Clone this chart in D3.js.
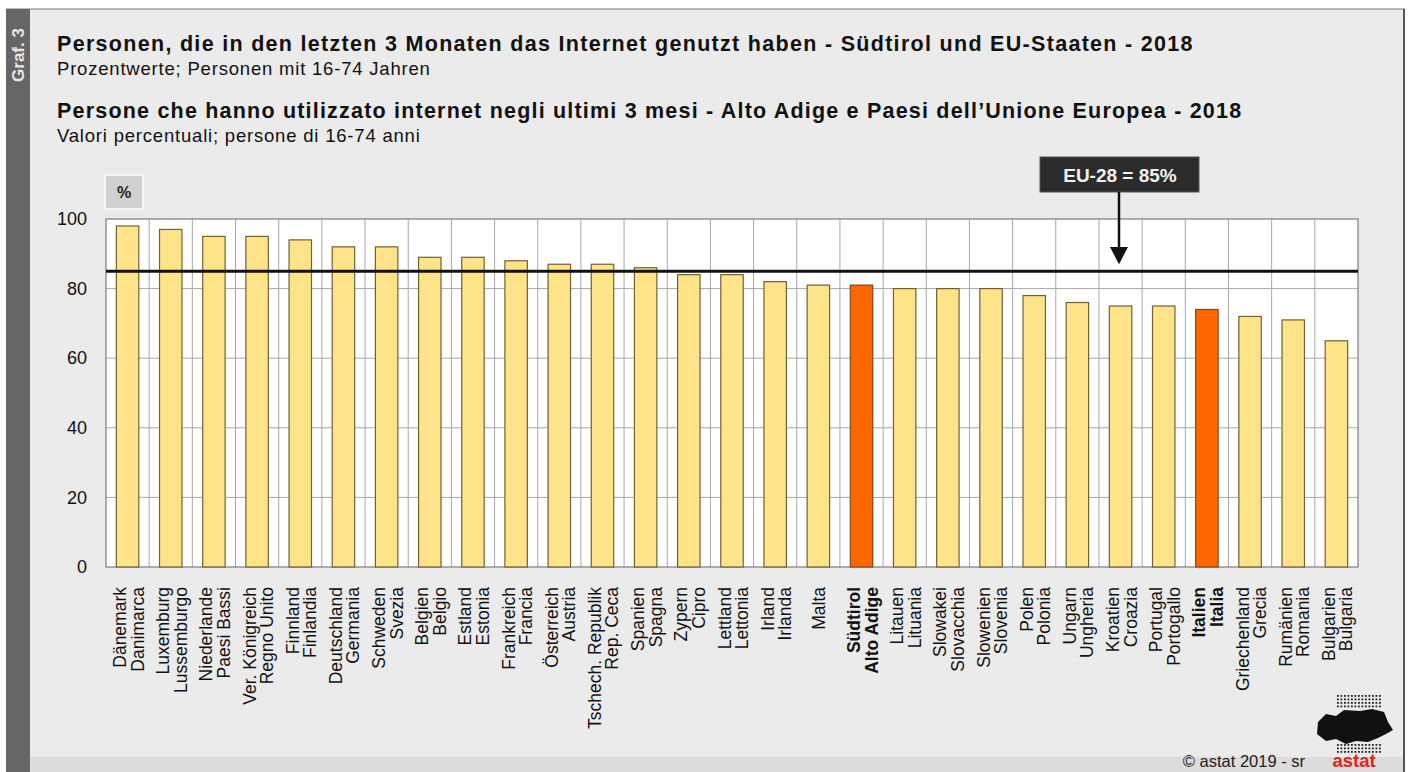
<!DOCTYPE html>
<html><head><meta charset="utf-8">
<script src="https://cdn.jsdelivr.net/npm/d3@7"></script>
<style>
html,body{margin:0;padding:0;background:#fff;}
svg{display:block;font-family:"Liberation Sans",Arial,sans-serif;}
</style></head>
<body><svg id="c" width="1410" height="772"></svg>
<script>
const labelsDe = ["Dänemark","Luxemburg","Niederlande","Ver. Königreich","Finnland","Deutschland","Schweden","Belgien","Estland","Frankreich","Österreich","Tschech. Republik","Spanien","Zypern","Lettland","Irland","Malta","Südtirol","Litauen","Slowakei","Slowenien","Polen","Ungarn","Kroatien","Portugal","Italien","Griechenland","Rumänien","Bulgarien"];
const labelsIt = ["Danimarca","Lussemburgo","Paesi Bassi","Regno Unito","Finlandia","Germania","Svezia","Belgio","Estonia","Francia","Austria","Rep. Ceca","Spagna","Cipro","Lettonia","Irlanda","","Alto Adige","Lituania","Slovacchia","Slovenia","Polonia","Ungheria","Croazia","Portogallo","Italia","Grecia","Romania","Bulgaria"];
const values = [98,97,95,95,94,92,92,89,89,88,87,87,86,84,84,82,81,81,80,80,80,78,76,75,75,74,72,71,65];
const highlighted = ["Südtirol","Italien"];
const yTicks = [0,20,40,60,80,100];
const euAverage = 85;

(function(){
const svg = d3.select("#c");
// background
svg.append("rect").attr("x",0).attr("y",0).attr("width",1410).attr("height",772).attr("fill","#ffffff");
svg.append("rect").attr("x",6).attr("y",9).attr("width",1398).attr("height",763).attr("fill","#ebebeb");
svg.append("rect").attr("x",30).attr("y",757).attr("width",1374).attr("height",15).attr("fill","#dcdcdc");
svg.append("line").attr("x1",1404).attr("x2",1404).attr("y1",9).attr("y2",772).attr("stroke","#555").attr("stroke-width",2);
svg.append("line").attr("x1",6).attr("x2",1405).attr("y1",9).attr("y2",9).attr("stroke","#777").attr("stroke-width",1);
svg.append("rect").attr("x",6).attr("y",9).attr("width",24).attr("height",763).attr("fill","#666666");
svg.append("text").attr("transform","translate(24,55) rotate(-90)").attr("text-anchor","middle")
  .attr("fill","#e6e6e6").attr("font-weight","bold").attr("font-size",17).text("Graf. 3");

// titles
const t = svg.append("g").attr("fill","#111");
t.append("text").attr("x",57).attr("y",51).attr("font-weight","bold").attr("font-size",21.5).attr("letter-spacing",1.3).text("Personen, die in den letzten 3 Monaten das Internet genutzt haben - Südtirol und EU-Staaten - 2018");
t.append("text").attr("x",57).attr("y",75).attr("font-size",18.5).attr("letter-spacing",0.8).text("Prozentwerte; Personen mit 16-74 Jahren");
t.append("text").attr("x",57).attr("y",118).attr("font-weight","bold").attr("font-size",21.5).attr("letter-spacing",1.2).text("Persone che hanno utilizzato internet negli ultimi 3 mesi - Alto Adige e Paesi dell’Unione Europea - 2018");
t.append("text").attr("x",57).attr("y",142).attr("font-size",18.5).attr("letter-spacing",0.8).text("Valori percentuali; persone di 16-74 anni");

// scales
const pL=106, pR=1358, pT=219, pB=567;
const x = d3.scaleBand().domain(labelsDe).range([pL,pR]).paddingInner(0.48).paddingOuter(0.24);
const xc = d3.scaleBand().domain(labelsDe).range([pL,pR]);
const y = d3.scaleLinear().domain([0,100]).range([pB,pT]);

svg.append("rect").attr("x",pL).attr("y",pT).attr("width",pR-pL).attr("height",pB-pT).attr("fill","#fff");
svg.append("g").selectAll("line").data(yTicks.filter(d=>d>0&&d<100)).join("line")
  .attr("x1",pL).attr("x2",pR).attr("y1",d=>y(d)).attr("y2",d=>y(d)).attr("stroke","#a8a8a8").attr("stroke-width",1);
svg.append("g").selectAll("line").data(labelsDe.slice(1)).join("line")
  .attr("x1",d=>xc(d)).attr("x2",d=>xc(d)).attr("y1",pT).attr("y2",pB).attr("stroke","#a8a8a8").attr("stroke-width",1);
svg.append("rect").attr("x",pL).attr("y",pT).attr("width",pR-pL).attr("height",pB-pT)
  .attr("fill","none").attr("stroke","#7a7a7a").attr("stroke-width",1.2);

// y axis
const ya = svg.append("g").attr("transform",`translate(${pL},0)`)
  .call(d3.axisLeft(y).tickValues(yTicks).tickSize(0).tickPadding(19));
ya.select(".domain").remove();
ya.selectAll("text").attr("font-size",18).attr("fill","#111").attr("font-family","Liberation Sans, Arial, sans-serif");

// % box
svg.append("rect").attr("x",105).attr("y",175).attr("width",38).attr("height",34).attr("fill","#d0d0d0").attr("stroke","#f6f6f6").attr("stroke-width",2);
svg.append("text").attr("x",124).attr("y",198).attr("text-anchor","middle").attr("font-weight","bold").attr("font-size",16).attr("fill","#222").text("%");

// bars
svg.append("g").selectAll("rect").data(labelsDe).join("rect")
  .attr("x",d=>x(d)).attr("width",x.bandwidth())
  .attr("y",(d,i)=>y(values[i])).attr("height",(d,i)=>y(0)-y(values[i]))
  .attr("fill",d=>highlighted.includes(d)?"#ff6600":"#ffe388")
  .attr("stroke",d=>highlighted.includes(d)?"#7a4a1e":"#6f6235").attr("stroke-width",1.2);

// EU line
svg.append("line").attr("x1",pL).attr("x2",pR).attr("y1",y(euAverage)).attr("y2",y(euAverage)).attr("stroke","#111").attr("stroke-width",3);

// annotation
const ax = 1119;
svg.append("rect").attr("x",1040).attr("y",157).attr("width",159).attr("height",35).attr("fill","#2b2b2b").attr("stroke","#555").attr("stroke-width",1);
svg.append("text").attr("x",ax+1).attr("y",182).attr("text-anchor","middle").attr("fill","#f2f2f2").attr("font-weight","bold").attr("font-size",19).text("EU-28 = "+euAverage+"%");
svg.append("line").attr("x1",ax).attr("x2",ax).attr("y1",192).attr("y2",250).attr("stroke","#111").attr("stroke-width",2.5);
svg.append("path").attr("d",`M${ax-9},${247} L${ax+9},${247} L${ax},${y(euAverage)-7} Z`).attr("fill","#111");

// x labels
const xl = svg.append("g").selectAll("g").data(labelsDe).join("g")
  .attr("transform",d=>`translate(${xc(d)+xc.bandwidth()/2},587) rotate(-90)`);
xl.each(function(d,i){
  const g=d3.select(this);
  const bold = highlighted.includes(d);
  const two = labelsIt[i] !== "";
  g.append("text").attr("x",0).attr("y",two?-1.5:6.5).attr("text-anchor","end").attr("font-size",17.5)
    .attr("font-weight",bold?"bold":"normal").attr("fill","#111").text(d);
  if(two) g.append("text").attr("x",0).attr("y",16).attr("text-anchor","end").attr("font-size",17.5)
    .attr("font-weight",bold?"bold":"normal").attr("fill","#111").text(labelsIt[i]);
});

// footer
svg.append("text").attr("x",1305).attr("y",767).attr("text-anchor","end").attr("font-size",16.5).attr("fill","#222").text("©  astat 2019 - sr");
svg.append("text").attr("x",1354).attr("y",767).attr("text-anchor","middle").attr("font-size",18.5).attr("font-weight","bold").attr("fill","#e2231a").text("astat");
// logo: map silhouette + dot grid
const lg = svg.append("g");
const dots=[];
for(let r=0;r<17;r++){for(let c=0;c<13;c++){
  const px=1337+c*3.5, py=695+r*3.5;
  if(py<709||py>741) dots.push({px,py});
}}
lg.selectAll("rect").data(dots).join("rect").attr("x",d=>d.px).attr("y",d=>d.py)
  .attr("width",1.8).attr("height",1.8).attr("fill","#222");
lg.append("path").attr("d","M1318,722 L1326,714 L1336,716 L1344,710 L1360,711 L1372,709 L1384,712 L1388,722 L1393,730 L1386,734 L1378,738 L1368,742 L1356,741 L1346,744 L1336,739 L1326,741 L1317,734 Z")
  .attr("fill","#111");
})();
</script></body></html>
